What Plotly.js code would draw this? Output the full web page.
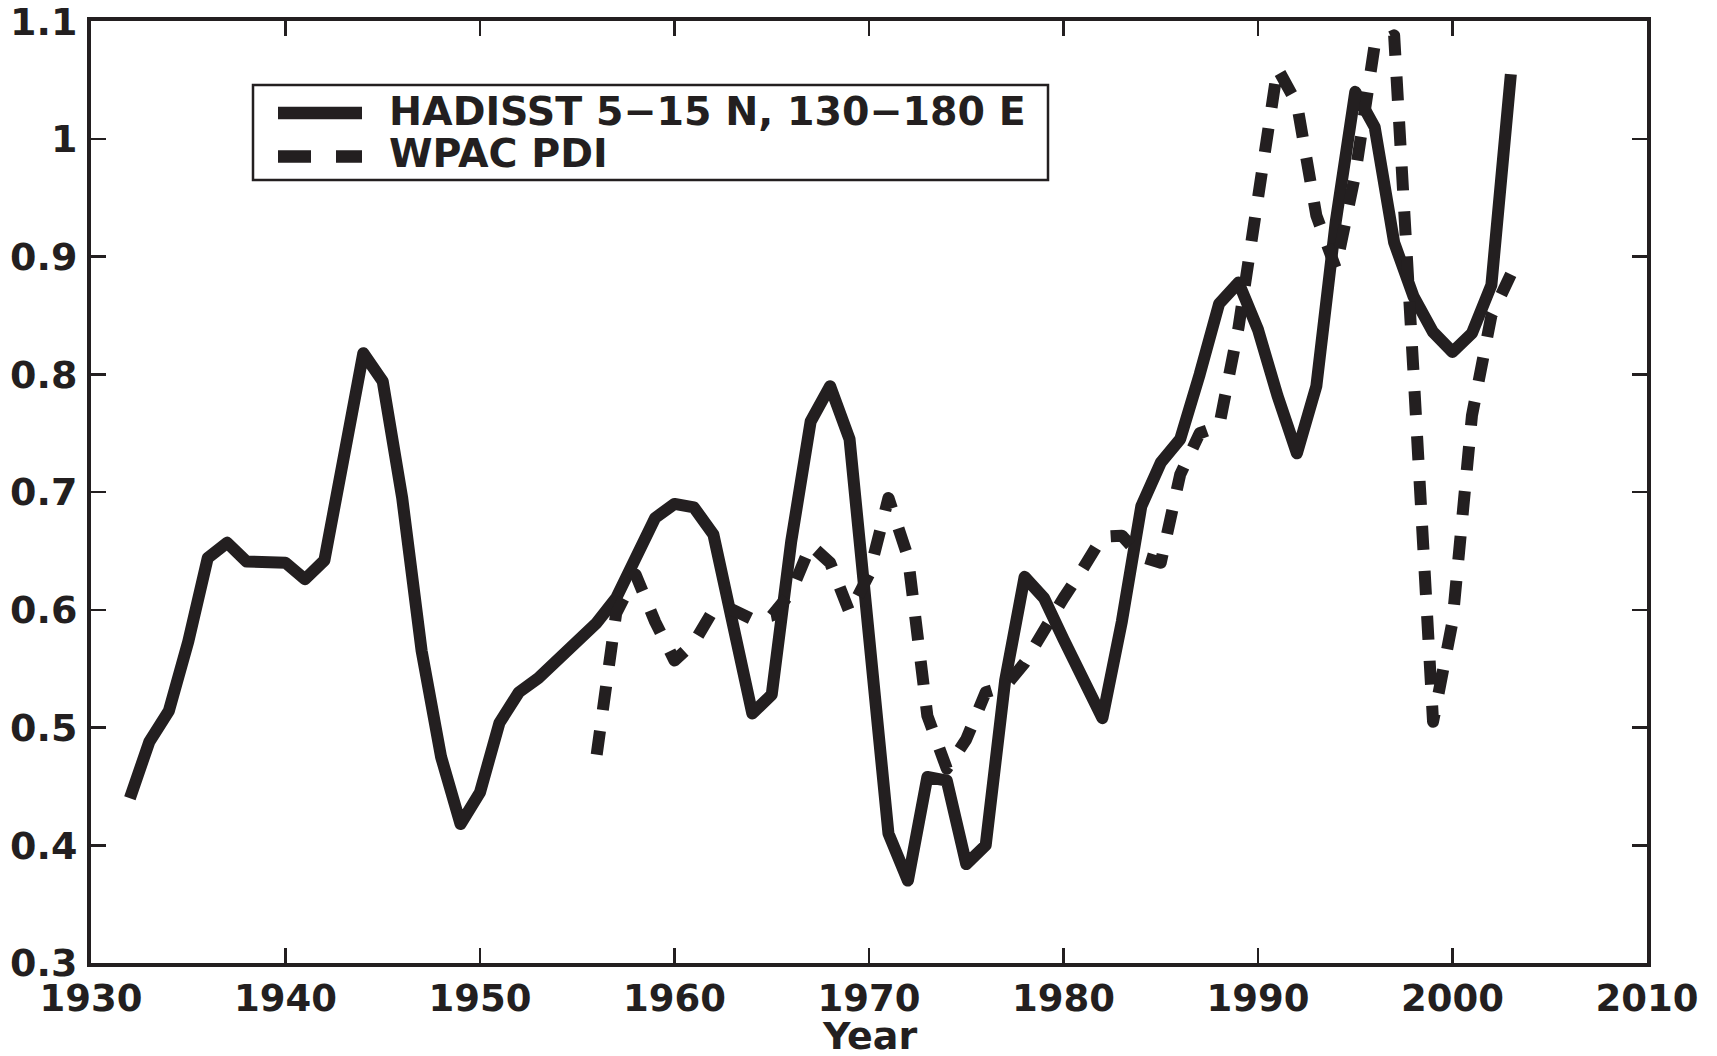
<!DOCTYPE html>
<html>
<head>
<meta charset="utf-8">
<script src="https://cdn.plot.ly/plotly-3.0.1.min.js"></script>
<style>
html,body{margin:0;padding:0;background:#fff;}
#chart{width:1717px;height:1056px;}
#chart .scatterlayer path.js-line{stroke-linejoin:round;}
</style>
</head>
<body>
<div id="chart"></div>
<script>
// ---- data ----
const hadYears = [1932,1933,1934,1935,1936,1937,1938,1939,1940,1941,1942,1943,1944,1945,1946,1947,1948,1949,1950,
  1951,1952,1953,1954,1955,1956,1957,1958,1959,1960,1961,1962,1963,1964,1965,1966,1967,1968,1969,1970,
  1971,1972,1973,1974,1975,1976,1977,1978,1979,1980,1981,1982,1983,1984,1985,1986,1987,1988,1989,1990,
  1991,1992,1993,1994,1995,1996,1997,1998,1999,2000,2001,2002,2003];
const hadSST = [0.44,0.488,0.514,0.573,0.644,0.657,0.641,0.64,0.64,0.626,0.642,0.73,0.818,0.794,0.695,0.565,0.475,0.418,0.445,
  0.504,0.53,0.542,0.557,0.573,0.589,0.61,0.643,0.678,0.69,0.687,0.664,0.592,0.512,0.528,0.658,0.76,0.79,0.745,0.58,
  0.41,0.37,0.458,0.455,0.384,0.40,0.54,0.628,0.61,0.575,0.54,0.508,0.59,0.688,0.725,0.745,0.80,0.86,0.878,0.838,
  0.782,0.733,0.79,0.93,1.04,1.01,0.912,0.866,0.836,0.819,0.835,0.876,1.055];

const pdiYears = [1956,1957,1958,1959,1960,1961,1962,1963,1964,1965,1966,1967,1968,1969,1970,
  1971,1972,1973,1974,1975,1976,1977,1978,1979,1980,1981,1982,1983,1984,1985,1986,1987,1988,1989,1990,
  1991,1992,1993,1994,1995,1996,1997,1998,1999,2000,2001,2002,2003];
const wpacPDI = [0.477,0.597,0.63,0.59,0.557,0.572,0.60,0.60,0.592,0.595,0.615,0.655,0.64,0.598,0.63,
  0.695,0.645,0.51,0.465,0.49,0.53,0.535,0.555,0.585,0.61,0.635,0.662,0.663,0.645,0.64,0.715,0.75,0.756,0.84,0.95,
  1.06,1.03,0.935,0.89,0.97,1.08,1.088,0.80,0.505,0.59,0.765,0.85,0.885];

const seriesNames = ["HADISST 5\u221215 N, 130\u2212180 E", "WPAC PDI"];
const xTitle = "Year";
const xTickVals = [1930,1940,1950,1960,1970,1980,1990,2000,2010];
const xTickText = ["1930","1940","1950","1960","1970","1980","1990","2000","2010"];
const yTickVals = [0.3,0.4,0.5,0.6,0.7,0.8,0.9,1.0,1.1];
const yTickText = ["0.3","0.4","0.5","0.6","0.7","0.8","0.9","1","1.1"];

// ---- styling ----
const INK = '#231f20';
const FONT = 'DejaVu Sans';
const W = 1717, H = 1056;
const M = {l: 91, r: 70, t: 21, b: 93};
const PW = W - M.l - M.r, PH = H - M.t - M.b;
const px2x = p => (p - M.l) / PW;
const py2y = p => (H - M.b - p) / PH;

const traces = [
  {x: hadYears, y: hadSST, name: seriesNames[0], type: 'scatter', mode: 'lines',
   line: {color: INK, width: 12}, showlegend: false, hoverinfo: 'x+y'},
  {x: pdiYears, y: wpacPDI, name: seriesNames[1], type: 'scatter', mode: 'lines',
   line: {color: INK, width: 12, dash: '24px,21px'}, showlegend: false, hoverinfo: 'x+y'}
];

const axisCommon = {
  showgrid: false, zeroline: false, showline: true, linecolor: INK, linewidth: 4,
  mirror: 'ticks', ticks: 'inside', ticklen: 15, tickwidth: 2.5, tickcolor: INK,
  ticklabeloverflow: 'allow',
  tickfont: {family: FONT, size: 38, weight: 'bold', color: INK}
};

const layout = {
  width: W, height: H,
  margin: M,
  paper_bgcolor: '#fff', plot_bgcolor: '#fff',
  font: {family: FONT, color: INK},
  showlegend: false,
  xaxis: Object.assign({}, axisCommon, {
    range: [1930, 2010], tickmode: 'array', tickvals: xTickVals, ticktext: xTickText,
    ticklabelstandoff: 0,
    tickfont: {family: FONT, size: 37, weight: 'bold', color: INK}
  }),
  yaxis: Object.assign({}, axisCommon, {
    range: [0.3, 1.1002], tickmode: 'array', tickvals: yTickVals, ticktext: yTickText,
    ticklabelstandoff: 2
  }),
  shapes: [
    {type: 'rect', xref: 'paper', yref: 'paper', x0: px2x(253), x1: px2x(1048), y0: py2y(180), y1: py2y(85),
     line: {color: INK, width: 2.5}, fillcolor: '#fff', layer: 'above'},
    {type: 'line', xref: 'paper', yref: 'paper', x0: px2x(278), x1: px2x(362), y0: py2y(113), y1: py2y(113),
     line: {color: INK, width: 12.5}, layer: 'above'},
    {type: 'line', xref: 'paper', yref: 'paper', x0: px2x(278), x1: px2x(362), y0: py2y(156.5), y1: py2y(156.5),
     line: {color: INK, width: 12.5, dash: '33px,25px'}, layer: 'above'}
  ],
  annotations: [
    {xref: 'paper', yref: 'paper', x: px2x(387), y: py2y(111), xanchor: 'left', yanchor: 'middle',
     text: seriesNames[0], showarrow: false, font: {family: FONT, size: 39.5, weight: 'bold', color: INK}},
    {xref: 'paper', yref: 'paper', x: px2x(387), y: py2y(153), xanchor: 'left', yanchor: 'middle',
     text: seriesNames[1], showarrow: false, font: {family: FONT, size: 39.5, weight: 'bold', color: INK}},
    {xref: 'paper', yref: 'paper', x: 0.5, y: py2y(1036), xanchor: 'center', yanchor: 'middle',
     text: xTitle, showarrow: false, font: {family: FONT, size: 38, weight: 'bold', color: INK}}
  ]
};

Plotly.newPlot('chart', traces, layout, {staticPlot: true, displayModeBar: false});
</script>
</body>
</html>
